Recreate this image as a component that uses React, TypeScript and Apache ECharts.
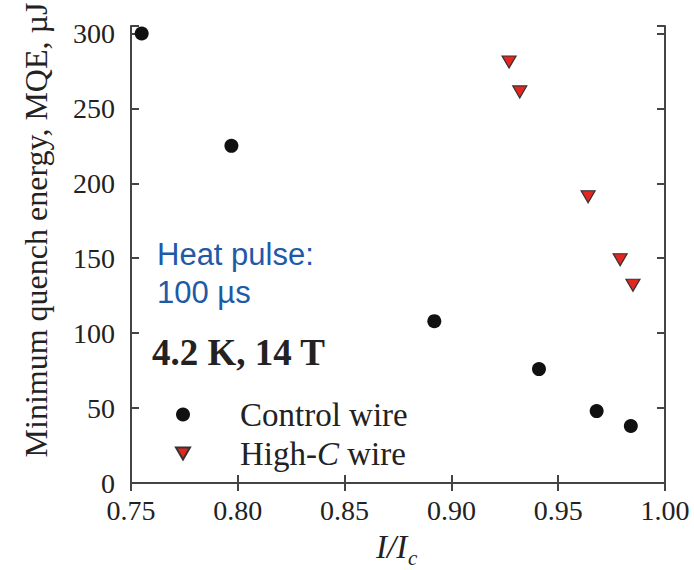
import React, { useEffect, useRef } from "react";
import * as echarts from "echarts";

// Normalised current I/Ic and minimum quench energy (µJ) for each wire
const controlCurrent = [0.755, 0.797, 0.892, 0.941, 0.968, 0.984];
const controlMqe = [300, 225, 108, 76, 48, 38];
const highCCurrent = [0.927, 0.932, 0.964, 0.979, 0.985];
const highCMqe = [281, 261, 191, 149, 132];

const seriesNames = ["Control wire", "High-C wire"];
const xRange = [0.75, 1.0];
const yRange = [0, 305];
const xStep = 0.05;
const yStep = 50;

const SERIF = "'Liberation Serif', 'Times New Roman', serif";
const SANS = "'Liberation Sans', Arial, sans-serif";
const INK = "#222";
const FRAME = "#444";
const RED = "#e3261f";

// Downward-pointing triangle used as the legend key for the High-C series
const DOWN_TRIANGLE = "path://M0,0 L14,0 L7,12 Z";

function zip(xs: number[], ys: number[]) {
  return xs.map((x, i) => [x, ys[i]]);
}

export default function App() {
  const ref = useRef<HTMLDivElement>(null);

  useEffect(() => {
    if (!ref.current) return;
    const chart = echarts.init(ref.current, undefined, { renderer: "svg" });

    const axisLine = { show: true, lineStyle: { color: FRAME, width: 2 } };
    const axisTick = { show: true, inside: true, length: 8, lineStyle: { color: FRAME, width: 2 } };

    const textStyle = (align: string) => ({
      textAlign: align,
      textVerticalAlign: "middle",
      align,
      verticalAlign: "middle",
    });

    chart.setOption({
      animation: false,
      backgroundColor: "#fff",
      grid: { left: 131, right: 29, top: 26, bottom: 87 },
      xAxis: [
        {
          type: "value",
          position: "bottom",
          min: xRange[0],
          max: xRange[1],
          interval: xStep,
          axisLine,
          axisTick,
          splitLine: { show: false },
          axisLabel: {
            margin: 13,
            color: INK,
            fontFamily: SERIF,
            fontSize: 28,
            formatter: (v: number) => v.toFixed(2),
          },
        },
        {
          type: "value",
          position: "top",
          min: xRange[0],
          max: xRange[1],
          interval: xStep,
          axisLine,
          axisTick,
          splitLine: { show: false },
          axisLabel: { show: false },
        },
      ],
      yAxis: [
        {
          type: "value",
          position: "left",
          min: yRange[0],
          max: yRange[1],
          interval: yStep,
          axisLine,
          axisTick,
          splitLine: { show: false },
          axisLabel: {
            margin: 16,
            color: INK,
            fontFamily: SERIF,
            fontSize: 28,
            formatter: (v: number) => (v % yStep === 0 ? String(v) : ""),
          },
        },
        {
          type: "value",
          position: "right",
          min: yRange[0],
          max: yRange[1],
          interval: yStep,
          axisLine,
          axisTick,
          splitLine: { show: false },
          axisLabel: { show: false },
        },
      ],
      legend: {
        orient: "vertical",
        left: 170,
        top: 393,
        itemWidth: 14,
        itemHeight: 14,
        itemGap: 6,
        data: [
          { name: seriesNames[0], icon: "circle" },
          { name: seriesNames[1], icon: DOWN_TRIANGLE },
        ],
        textStyle: {
          color: INK,
          fontFamily: SERIF,
          fontSize: 33,
          rich: {
            f: { fontFamily: SERIF, fontSize: 33, color: INK, lineHeight: 33, padding: [0, 0, 0, 45] },
            n: { fontFamily: SERIF, fontSize: 33, color: INK, lineHeight: 33 },
            i: { fontFamily: SERIF, fontSize: 33, color: INK, lineHeight: 33, fontStyle: "italic" },
          },
        },
        formatter: (name: string) =>
          name === "High-C wire" ? "{f|High-}{i|C}{n| wire}" : `{f|${name}}`,
      },
      series: [
        {
          name: seriesNames[0],
          type: "scatter",
          symbol: "circle",
          symbolSize: 14,
          itemStyle: { color: "#111", opacity: 1 },
          data: zip(controlCurrent, controlMqe),
        },
        {
          name: seriesNames[1],
          type: "scatter",
          symbol: "triangle",
          symbolSize: [14, 12],
          symbolRotate: 180,
          itemStyle: { color: RED, borderColor: "#333", borderWidth: 1.2, opacity: 1 },
          data: zip(highCCurrent, highCMqe),
        },
      ],
      graphic: [
        {
          type: "text",
          x: 36,
          y: 230,
          rotation: Math.PI / 2,
          style: {
            text: "Minimum quench energy, MQE, µJ",
            font: `32px ${SERIF}`,
            fill: INK,
            ...textStyle("center"),
          },
        },
        {
          type: "text",
          x: 376,
          y: 547,
          style: {
            text: "I/I",
            font: `italic 33px ${SERIF}`,
            fill: INK,
            ...textStyle("left"),
          },
        },
        {
          type: "text",
          x: 408,
          y: 558,
          style: {
            text: "c",
            font: `italic 21px ${SERIF}`,
            fill: INK,
            ...textStyle("left"),
          },
        },
        {
          type: "text",
          x: 157,
          y: 254,
          style: {
            text: "Heat pulse:",
            font: `31px ${SANS}`,
            fill: "#1f5aa8",
            ...textStyle("left"),
          },
        },
        {
          type: "text",
          x: 157,
          y: 292,
          style: {
            text: "100 µs",
            font: `31px ${SANS}`,
            fill: "#1f5aa8",
            ...textStyle("left"),
          },
        },
        {
          type: "text",
          x: 152,
          y: 352,
          style: {
            text: "4.2 K, 14 T",
            font: `bold 37px ${SERIF}`,
            fill: INK,
            ...textStyle("left"),
          },
        },
      ],
    });

    return () => chart.dispose();
  }, []);

  return (
    <div
      ref={ref}
      style={{ position: "fixed", left: 0, top: 0, width: 694, height: 570, background: "#fff" }}
    />
  );
}
